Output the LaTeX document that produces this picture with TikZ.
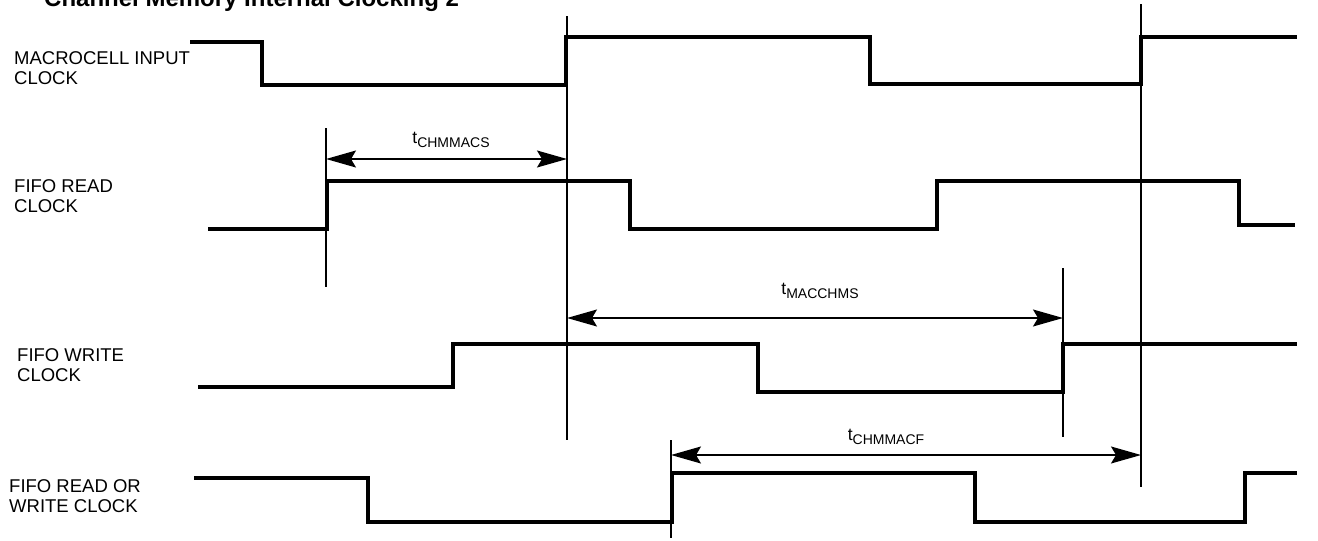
\documentclass[tikz,border=0pt]{standalone}
\usepackage{fontspec}
\setmainfont{Liberation Sans}
\usepackage{tikz}
\usetikzlibrary{arrows.meta,positioning}
\newcommand{\tsub}[1]{t\raisebox{-0.25em}{\fontsize{14}{15}\selectfont #1}}
\tikzset{
  wave/.style={line width=3.3pt, line join=miter},
  marker/.style={line width=1.5pt},
  dim/.style={line width=1.5pt,
    {Stealth[length=30pt,width=17pt,inset=5pt]}-{Stealth[length=30pt,width=17pt,inset=5pt]}},
  siglabel/.style={anchor=north west, inner sep=0pt, align=left, font=\fontsize{18.5}{20}\selectfont},
  tlabel/.style={anchor=base, inner sep=0pt, font=\fontsize{17.5}{20}\selectfont}
}

\begin{document}
\begin{tikzpicture}[x=1pt,y=-1pt]
\useasboundingbox (0,0) rectangle (1318,541);

\node[anchor=base west, inner sep=0pt, font=\fontsize{24}{28}\selectfont\bfseries] (title) at (44,6) {Channel Memory Internal Clocking 2};

% signal names
\node[siglabel] (macclk) at (14,51) {MACROCELL INPUT\\CLOCK};
\node[siglabel] (rdclk) at (14,179) {FIFO READ\\CLOCK};
\node[siglabel] (wrclk) at (17,348) {FIFO WRITE\\CLOCK};
\node[siglabel] (rwclk) at (9,479) {FIFO READ OR\\WRITE CLOCK};

% waveforms
\draw[wave] (190,42) -- (262,42) -- (262,85) -- (566,85) -- (566,37) -- (870,37)
  -- (870,84) -- (1141,84) -- (1141,37) -- (1297,37);
\draw[wave] (208,229) -- (327,229) -- (327,181) -- (630,181) -- (630,229) -- (937,229)
  -- (937,181) -- (1239,181) -- (1239,225) -- (1295,225);
\draw[wave] (198,387) -- (453,387) -- (453,344) -- (758,344) -- (758,392) -- (1063,392)
  -- (1063,344) -- (1297,344);
\draw[wave] (194,478) -- (368,478) -- (368,522) -- (672,522) -- (672,473) -- (975,473)
  -- (975,522) -- (1245,522) -- (1245,473) -- (1297,473);

% reference edges
\coordinate (rdtop) at (326,128);
\coordinate (rdbot) at (326,287);
\coordinate (mactop) at (567,16);
\coordinate (macbot) at (567,440);
\coordinate (mac2top) at (1141,4);
\coordinate (mac2bot) at (1141,487);
\coordinate (wrtop) at (1063,268);
\coordinate (wrbot) at (1063,437);
\coordinate (rwtop) at (671,440);
\coordinate (rwbot) at (671,538);
\draw[marker] (rdtop) -- (rdbot);
\draw[marker] (mactop) -- (macbot);
\draw[marker] (mac2top) -- (mac2bot);
\draw[marker] (wrtop) -- (wrbot);
\draw[marker] (rwtop) -- (rwbot);

% timing arrows
\coordinate (cs1) at (326,159);
\coordinate (cs2) at (567,159);
\coordinate (ms1) at (567,318);
\coordinate (ms2) at (1063,318);
\coordinate (cf1) at (671,455);
\coordinate (cf2) at (1141,455);
\draw[dim] (cs1) -- (cs2);
\draw[dim] (ms1) -- (ms2);
\draw[dim] (cf1) -- (cf2);
\node[tlabel] (tcs) at (451,143) {\tsub{CHMMACS}};
\node[tlabel] (tms) at (820,294) {\tsub{MACCHMS}};
\node[tlabel] (tcf) at (886,440) {\tsub{CHMMACF}};
\end{tikzpicture}
\end{document}
